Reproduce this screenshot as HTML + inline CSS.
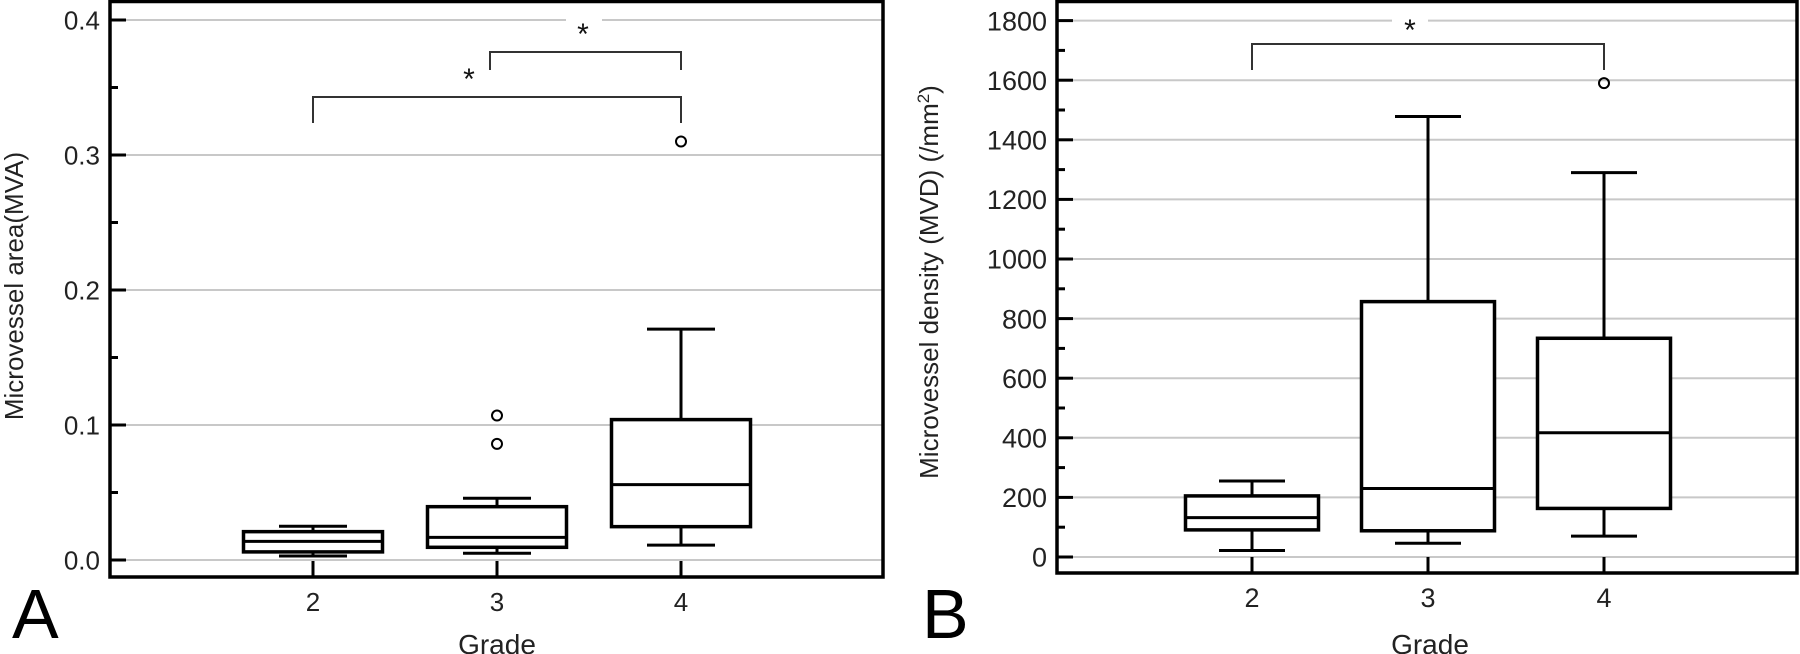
<!DOCTYPE html>
<html><head><meta charset="utf-8"><style>
html,body{margin:0;padding:0;background:#fff;}
svg{display:block;font-family:"Liberation Sans",Arial,sans-serif;}
</style></head><body>
<svg id="fig" width="1800" height="654" viewBox="0 0 1800 654" xmlns="http://www.w3.org/2000/svg"></svg>
<script>
// Panel A data (MVA)
const catsA = [2, 3, 4];
const lowA = [0.003, 0.005, 0.011];
const q1A = [0.006, 0.0094, 0.0247];
const medA = [0.0138, 0.0168, 0.0558];
const q3A = [0.021, 0.0395, 0.104];
const highA = [0.025, 0.0457, 0.171];
const outCatA = [3, 3, 4];
const outValA = [0.086, 0.107, 0.310];
const ticksA = [0.0, 0.1, 0.2, 0.3, 0.4];
const tickLabelsA = ["0.0", "0.1", "0.2", "0.3", "0.4"];
// Panel B data (MVD)
const catsB = [2, 3, 4];
const lowB = [22, 46, 70];
const q1B = [91, 88, 163];
const medB = [132, 230, 417];
const q3B = [205, 857, 734];
const highB = [255, 1478, 1290];
const outCatB = [4];
const outValB = [1590];
const ticksB = [0, 200, 400, 600, 800, 1000, 1200, 1400, 1600, 1800];
const tickLabelsB = ["0","200","400","600","800","1000","1200","1400","1600","1800"];

const svg = document.getElementById('fig');
const NS = 'http://www.w3.org/2000/svg';
function mk(tag, attrs, name, parent) {
  const el = document.createElementNS(NS, tag);
  for (const k in attrs) el.setAttribute(k, attrs[k]);
  
  
  (parent || svg).appendChild(el);
  return el;
}
function txt(s, attrs, name) { const t = mk('text', attrs, name); t.textContent = s; return t; }

function panel(cfg) {
  const { left, right, top, bottom, xOf, yOf, ticks, labels, minor, cats, low, q1, med, q3, high, oc, ov, boxW, capW, fs } = cfg;
  // gridlines
  ticks.forEach((v, i) => {
    mk('line', { x1: left + 16, x2: right, y1: yOf(v), y2: yOf(v), stroke: '#c8c8c8', 'stroke-width': 2 }, 'gridline');
  });
  // minor ticks
  minor.forEach(v => {
    mk('line', { x1: left, x2: left + 8, y1: yOf(v), y2: yOf(v), stroke: '#000', 'stroke-width': 3 }, 'minor-tick');
  });
  ticks.forEach((v, i) => {
    mk('line', { x1: left, x2: left + 16, y1: yOf(v), y2: yOf(v), stroke: '#000', 'stroke-width': 3 }, 'major-tick');
    txt(labels[i], { x: left - 10, y: yOf(v) + fs * 0.36, 'font-size': fs, 'text-anchor': 'end', fill: '#222' }, 'y-tick-label');
  });
  cats.forEach((c, i) => {
    const x = xOf(c);
    mk('line', { x1: x, x2: x, y1: bottom, y2: bottom - 16, stroke: '#000', 'stroke-width': 3 }, 'x-tick');
    txt(String(c), { x: x, y: bottom + 34, 'font-size': fs, 'text-anchor': 'middle', fill: '#222' }, 'x-tick-label');
    const g = mk('g', {}, 'box-grade-' + c);
    mk('line', { x1: x, x2: x, y1: yOf(high[i]), y2: yOf(q3[i]), stroke: '#000', 'stroke-width': 3 }, 'upper-whisker', g);
    mk('line', { x1: x, x2: x, y1: yOf(q1[i]), y2: yOf(low[i]), stroke: '#000', 'stroke-width': 3 }, 'lower-whisker', g);
    mk('line', { x1: x - capW / 2, x2: x + capW / 2, y1: yOf(high[i]), y2: yOf(high[i]), stroke: '#000', 'stroke-width': 3 }, 'upper-cap', g);
    mk('line', { x1: x - capW / 2, x2: x + capW / 2, y1: yOf(low[i]), y2: yOf(low[i]), stroke: '#000', 'stroke-width': 3 }, 'lower-cap', g);
    mk('rect', { x: x - boxW / 2, y: yOf(q3[i]), width: boxW, height: yOf(q1[i]) - yOf(q3[i]), fill: '#fff', stroke: '#000', 'stroke-width': 3.5 }, 'iqr-box', g);
    mk('line', { x1: x - boxW / 2, x2: x + boxW / 2, y1: yOf(med[i]), y2: yOf(med[i]), stroke: '#000', 'stroke-width': 3 }, 'median-line', g);
  });
  oc.forEach((c, i) => {
    mk('circle', { cx: xOf(c), cy: yOf(ov[i]), r: 5, fill: 'none', stroke: '#000', 'stroke-width': 2 }, 'outlier-point');
  });
  mk('rect', { x: left, y: top, width: right - left, height: bottom - top, fill: 'none', stroke: '#000', 'stroke-width': 3.5 }, 'plot-frame');
}

function bracket(x1, x2, yTop, yLeg1, yLeg2, sx, sy, name) {
  mk('polyline', { points: `${x1},${yLeg1} ${x1},${yTop} ${x2},${yTop} ${x2},${yLeg2}`, fill: 'none', stroke: '#333', 'stroke-width': 2 }, name);
  txt('*', { x: sx, y: sy, 'font-size': 30, 'text-anchor': 'middle', fill: '#111' }, 'significance-star');
}

// Panel A
const xA = c => 313 + (c - 2) * 184;
const yA = v => 560 - v * 1350;
panel({ left: 110, right: 883, top: 1.5, bottom: 577, xOf: xA, yOf: yA, ticks: ticksA, labels: tickLabelsA,
  minor: [0.05, 0.15, 0.25, 0.35], cats: catsA, low: lowA, q1: q1A, med: medA, q3: q3A, high: highA,
  oc: outCatA, ov: outValA, boxW: 139, capW: 68, fs: 26 });
mk('rect', { x: 566, y: 14, width: 36, height: 10, fill: '#fff' }, 'grid-gap');
bracket(xA(2), xA(4), 97, 123, 123, 469, 89, 'bracket-2-vs-4');
bracket(490, xA(4), 52, 70, 70, 583, 44, 'bracket-3-vs-4');
txt('Microvessel area(MVA)', { x: 0, y: 0, 'font-size': 26, 'text-anchor': 'middle', fill: '#222', transform: 'translate(23,286) rotate(-90)' }, 'y-axis-title-a');
txt('Grade', { x: 497, y: 654, 'font-size': 28, 'text-anchor': 'middle', fill: '#222' }, 'x-axis-title-a');
txt('A', { x: 12, y: 638, 'font-size': 70, fill: '#000' }, 'panel-label-a');

// Panel B
const xB = c => 1252 + (c - 2) * 176;
const yB = v => 557 - v * 0.298;
panel({ left: 1057, right: 1797, top: 1.5, bottom: 573, xOf: xB, yOf: yB, ticks: ticksB, labels: tickLabelsB,
  minor: [100, 300, 500, 700, 900, 1100, 1300, 1500, 1700], cats: catsB, low: lowB, q1: q1B, med: medB, q3: q3B, high: highB,
  oc: outCatB, ov: outValB, boxW: 133, capW: 66, fs: 27 });
mk('rect', { x: 1392, y: 14, width: 36, height: 10, fill: '#fff' }, 'grid-gap');
bracket(xB(2), xB(4), 44, 70, 70, 1410, 40, 'bracket-2-vs-4-b');
const tb = mk('text', { x: 0, y: 0, 'font-size': 26, 'text-anchor': 'middle', fill: '#222', transform: 'translate(938,282) rotate(-90)' }, 'y-axis-title-b');
tb.innerHTML = 'Microvessel density (MVD) (/mm<tspan dy="-9" font-size="17">2</tspan><tspan dy="9">)</tspan>';
txt('Grade', { x: 1430, y: 654, 'font-size': 28, 'text-anchor': 'middle', fill: '#222' }, 'x-axis-title-b');
txt('B', { x: 922, y: 638, 'font-size': 70, fill: '#000' }, 'panel-label-b');
</script>
</body></html>
